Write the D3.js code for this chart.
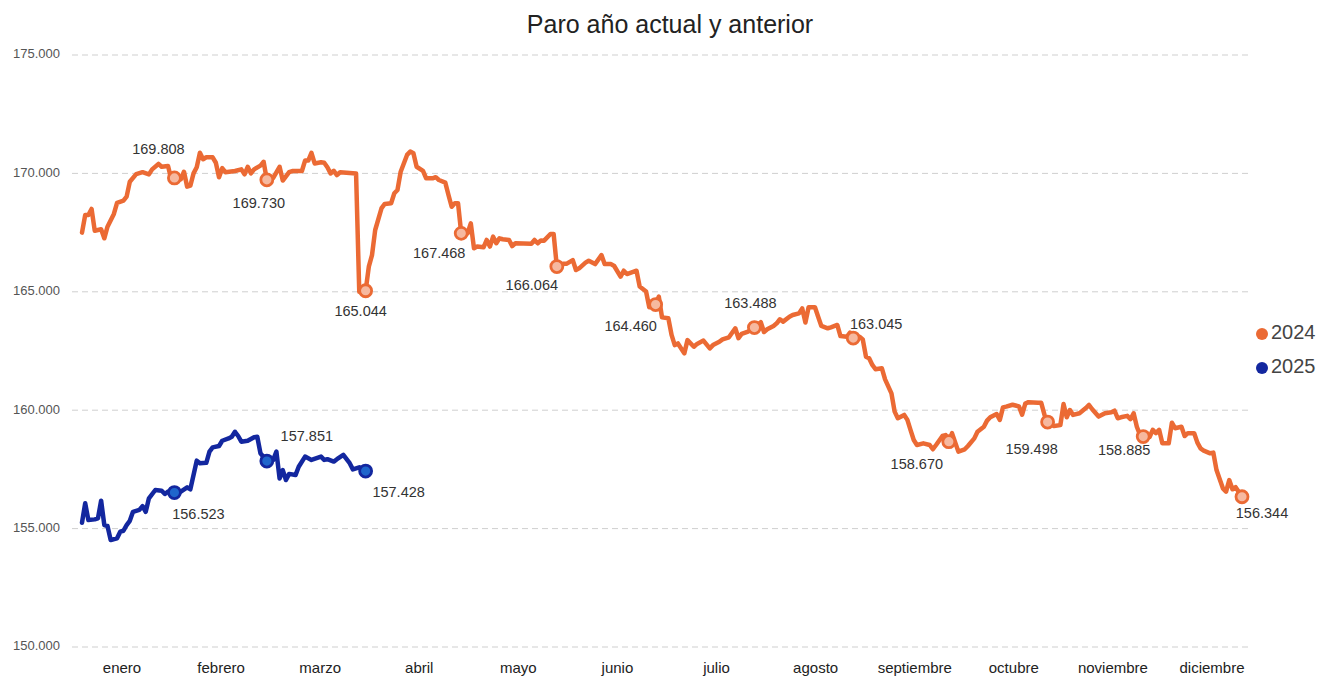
<!DOCTYPE html>
<html><head><meta charset="utf-8">
<script src="https://cdn.jsdelivr.net/npm/d3@7"></script>
<style>
body{margin:0;background:#fff;}
text{font-family:"Liberation Sans",Arial,sans-serif;}
</style>
</head><body>
<svg id="chart" width="1319" height="677"></svg>
<script>
// ---------- DATA ----------
const title = "Paro año actual y anterior";
const months = ["enero","febrero","marzo","abril","mayo","junio","julio","agosto","septiembre","octubre","noviembre","diciembre"];
const yTicks = [150000,155000,160000,165000,170000,175000];
const seriesNames = ["2024","2025"];

// day of year (x) and paro value, 2024
const days2024 = [1,2,3,4,5,7,8,9,11,12,14,15,16,18,20,22,23,25,26,28,29,30,32,33,34,35,36,37,38,39,40,42,43,44,45,46,49,51,52,53,54,55,57,58,59,61,63,64,66,67,70,71,72,73,74,76,77,78,79,80,81,82,87,88,90,91,92,93,95,96,98,99,100,101,103,104,105,106,108,109,111,112,113,115,116,117,118,119,120,122,123,124,125,127,128,129,130,131,132,133,135,136,137,142,143,144,145,146,148,149,150,152,153,155,156,157,159,160,162,164,165,167,168,170,171,172,175,176,178,179,181,182,183,185,186,187,188,190,191,193,194,196,198,199,201,202,204,206,207,208,210,211,212,214,215,216,218,219,220,221,223,224,226,227,228,229,231,232,233,235,236,238,239,241,242,243,245,246,247,248,249,250,252,253,255,256,257,259,260,261,262,263,265,267,268,269,271,272,273,274,276,278,279,281,282,284,285,286,288,289,290,291,293,295,296,297,298,301,302,303,304,306,308,309,310,311,312,314,316,317,318,320,322,324,325,326,327,329,330,331,332,333,334,336,337,338,339,340,342,343,344,346,347,348,350,351,352,353,355,356,357,359,360,361,362,363,365];
const values2024 = [167500,168240,168240,168500,167580,167640,167260,167750,168290,168760,168850,169020,169650,169970,170050,169960,170170,170400,170280,170310,169750,169808,169750,170070,169440,169480,170000,170260,170870,170600,170680,170680,170450,169840,170220,170050,170100,170170,169960,170280,170000,170170,170330,170490,169730,169810,170280,169700,170050,170100,170100,170540,170540,170870,170420,170470,170450,170260,170000,170110,169930,170050,170000,165000,165044,166060,166550,167610,168530,168710,168740,169160,169300,170070,170780,170920,170850,170280,170110,169790,169790,169840,169720,169610,169090,168590,168740,168740,167468,167470,167890,166840,166910,166880,167190,166910,167330,167050,167260,167220,167190,166930,167050,167030,167190,167050,167170,167160,167440,167440,166064,166180,166180,166340,165920,165990,166230,166310,166170,166550,166170,166170,166090,165640,165890,165750,165890,165220,165010,164350,164460,164800,163920,163880,163180,162750,162820,162400,162960,162680,162800,162940,162610,162750,162890,162990,163080,163460,163040,163220,163320,163390,163488,163720,163300,163420,163560,163670,163840,163740,163950,164020,164090,164300,163700,164350,164350,163950,163560,163460,163500,163600,163130,163100,163280,163045,163100,162990,162260,162190,161910,161730,161770,161300,160710,159940,159660,159800,159590,159160,158740,158530,158600,158530,158350,158530,158910,158950,158670,159030,158250,158350,158490,158810,159090,159300,159560,159700,159840,159590,160120,160150,160230,160160,159810,160280,160340,160310,160310,159810,159498,159330,159370,160260,159700,160010,159800,159870,160090,160220,160040,159730,159870,159910,159980,159660,159700,159760,159620,159870,159300,158950,158885,158870,159170,159030,159170,158600,158600,159470,159240,159300,158910,159030,159030,158630,158390,158290,158180,158210,157470,156700,156560,157050,156660,156750,156344];

// 2025
const days2025 = [1,2,3,5,6,7,8,9,10,12,13,14,15,16,17,19,20,21,22,24,26,27,28,30,32,34,35,37,38,40,41,42,44,45,47,48,49,50,51,53,55,56,57,59,61,62,63,64,65,66,68,69,71,73,76,77,78,80,81,83,85,86,88,90];
const values2025 = [155250,156070,155360,155390,155430,156180,155150,155110,154520,154590,154870,154910,155150,155330,155710,155790,155950,155710,156280,156630,156600,156460,156560,156523,156560,156740,156660,157870,157760,157780,158250,158430,158490,158710,158810,158880,159090,158910,158670,158710,158860,158880,158180,157851,157900,158250,157120,157470,157050,157310,157260,157610,158040,157900,158040,157900,157930,157830,157930,158110,157760,157500,157590,157428];

// month-end marked days
const markerDays2024 = [30,59,90,120,150,181,212,243,273,304,334,365];
const markerDays2025 = [30,59,90];

// ---------- LAYOUT ----------
const labelOffsets2024 = [[-16,-28],[-8,24],[-5,21],[-22,21],[-25,20],[-25,23],[-4,-23],[23,-13],[-32,23],[-16,28],[-19,15],[20,17]];
const labelOffsets2025 = [[24,23],[40,-24],[33,22]];

const colors = {"2024":"#EB6A34","2025":"#13279F"};
const markerFill = {"2024":"#F6B9A0","2025":"#1F66CC"};

const svg = d3.select("#chart");
const plotLeft = 72, plotRight = 1252;

const x = d3.scaleLinear().domain([1,365]).range([82,1242]);
const y = d3.scaleLinear().domain([150000,175000]).range([647,55]);

const loc = d3.formatLocale({decimal:",",thousands:".",grouping:[3],currency:["","€"]});
const fmt = loc.format(",d");

// title
svg.append("text").attr("x",670).attr("y",26).attr("text-anchor","middle")
  .attr("dominant-baseline","middle").attr("font-size",25).attr("fill","#222").text(title);

// gridlines + y labels
const yAxis = svg.append("g");
yAxis.selectAll("line").data(yTicks).join("line")
  .attr("x1",plotLeft).attr("x2",plotRight)
  .attr("y1",d=>y(d)).attr("y2",d=>y(d))
  .attr("stroke","#cfcfcf").attr("stroke-width",1).attr("stroke-dasharray","6,4");
yAxis.selectAll("text").data(yTicks).join("text")
  .attr("x",60).attr("y",d=>y(d)).attr("text-anchor","end").attr("dominant-baseline","middle")
  .attr("font-size",13).attr("fill","#555").text(d=>fmt(d));

// x month labels
const xm = d3.scalePoint().domain(months).range([122,1212]);
svg.append("g").selectAll("text").data(months).join("text")
  .attr("x",d=>xm(d)).attr("y",669).attr("text-anchor","middle").attr("dominant-baseline","middle")
  .attr("font-size",15).attr("fill","#222").text(d=>d);

const line = d3.line().x(d=>x(d[0])).y(d=>y(d[1]));

function drawSeries(name, days, values, markerDays, offsets){
  const pts = days.map((d,i)=>[d,values[i]]);
  svg.append("path").datum(pts).attr("d",line).attr("fill","none")
    .attr("stroke",colors[name]).attr("stroke-width",4.5).attr("stroke-linejoin","round").attr("stroke-linecap","round");
  const mk = markerDays.map((d,i)=>({d, v: values[days.indexOf(d)], off: offsets[i]}));
  svg.append("g").selectAll("circle").data(mk).join("circle")
    .attr("cx",m=>x(m.d)).attr("cy",m=>y(m.v)).attr("r",6)
    .attr("fill",markerFill[name]).attr("stroke",colors[name]).attr("stroke-width",2.8);
  svg.append("g").selectAll("text").data(mk).join("text")
    .attr("x",m=>x(m.d)+m.off[0]).attr("y",m=>y(m.v)+m.off[1])
    .attr("text-anchor","middle").attr("dominant-baseline","middle")
    .attr("font-size",14.5).attr("fill","#333").text(m=>fmt(m.v));
}
drawSeries("2024", days2024, values2024, markerDays2024, labelOffsets2024);
drawSeries("2025", days2025, values2025, markerDays2025, labelOffsets2025);

// legend
const lg = svg.append("g");
seriesNames.forEach((n,i)=>{
  lg.append("circle").attr("cx",1262).attr("cy",334+i*34).attr("r",6).attr("fill",colors[n]);
  lg.append("text").attr("x",1271).attr("y",334+i*34).attr("dominant-baseline","middle")
    .attr("font-size",20).attr("fill","#444").text(n);
});
</script>
</body></html>
